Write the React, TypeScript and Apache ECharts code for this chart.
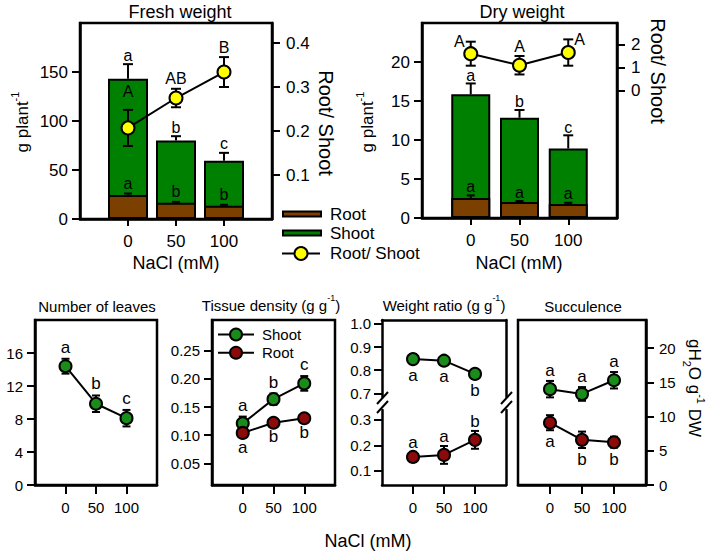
import React, { useEffect, useRef } from "react";
import * as echarts from "echarts";

const FONT = "'Liberation Sans', Arial, Helvetica, sans-serif";

// ---------------- data ----------------
const NACL = [0, 50, 100];
const NACL_TICKS = [0, 50, 100];

const FW_ROOT = [24.5, 16.5, 13.5];
const FW_ROOT_ERR = [1.5, 1, 1];
const FW_SHOOT = [118.5, 63.5, 46]; // shoot part stacked on root
const FW_SHOOT_ERR = [15, 4.5, 8];
const FW_RATIO = [0.207, 0.275, 0.334];
const FW_RATIO_ERR = [0.041, 0.021, 0.034];
const FW_SHOOT_LET = ["a", "b", "c"];
const FW_ROOT_LET = ["a", "b", "b"];
const FW_RATIO_LET = ["A", "AB", "B"];
const FW_LEFT_TICKS = [0, 50, 100, 150];
const FW_RIGHT_TICKS = [0.1, 0.2, 0.3, 0.4];

const DW_ROOT = [2.55, 2.05, 1.8];
const DW_ROOT_ERR = [0.35, 0.12, 0.15];
const DW_SHOOT = [13.3, 10.8, 7.1]; // shoot part stacked on root
const DW_SHOOT_ERR = [1.4, 1.0, 1.7];
const DW_RATIO = [1.6, 1.1, 1.65];
const DW_RATIO_ERR = [0.52, 0.4, 0.57];
const DW_SHOOT_LET = ["a", "b", "c"];
const DW_ROOT_LET = ["a", "a", "a"];
const DW_RATIO_LET = ["A", "A", "A"];
const DW_LEFT_TICKS = [0, 5, 10, 15, 20];
const DW_RIGHT_TICKS = [0, 1, 2];

const LEAVES = [14.4, 9.85, 8.1];
const LEAVES_ERR = [0.9, 1.0, 1.0];
const LEAVES_LET = ["a", "b", "c"];
const LEAVES_TICKS = [0, 4, 8, 12, 16];

const TD_SHOOT = [0.121, 0.164, 0.192];
const TD_SHOOT_ERR = [0.012, 0.01, 0.013];
const TD_ROOT = [0.104, 0.122, 0.13];
const TD_ROOT_ERR = [0.005, 0.004, 0.004];
const TD_SHOOT_LET = ["a", "b", "c"];
const TD_ROOT_LET = ["a", "b", "b"];
const TD_TICKS = [0.05, 0.1, 0.15, 0.2, 0.25];

const WR_SHOOT = [0.848, 0.841, 0.784];
const WR_SHOOT_ERR = [0.02, 0.018, 0.02];
const WR_ROOT = [0.155, 0.163, 0.222];
const WR_ROOT_ERR = [0.02, 0.035, 0.035];
const WR_SHOOT_LET = ["a", "a", "b"];
const WR_ROOT_LET = ["a", "a", "b"];
const WR_UPPER_TICKS = [0.7, 0.8, 0.9, 1.0];
const WR_LOWER_TICKS = [0.1, 0.2, 0.3];

const SU_SHOOT = [14.0, 13.3, 15.3];
const SU_SHOOT_ERR = [1.2, 1.0, 1.2];
const SU_ROOT = [9.1, 6.6, 6.25];
const SU_ROOT_ERR = [1.1, 1.2, 0.8];
const SU_SHOOT_LET = ["a", "a", "a"];
const SU_ROOT_LET = ["a", "b", "b"];
const SU_TICKS = [0, 5, 10, 15, 20];

const TOP_LEGEND = ["Root", "Shoot", "Root/ Shoot"];
const TD_LEGEND = ["Shoot", "Root"];

// ---------------- styles ----------------
const BROWN = "#7B3F00";
const GREEN_BAR = "#008000";
const YELLOW = "#FFFF00";
const GREEN_PT = "#1A8C1A";
const RED_PT = "#8B0A0A";
const AXIS_W = 2.5;

const add = (a: number[], b: number[]) => a.map((v, i) => v + b[i]);
const sub = (a: number[], b: number[]) => a.map((v, i) => v - b[i]);

function xAx(gridIndex: number, fs: number, margin: number, tickLen: number, show = true, position = "bottom") {
  return {
    type: "value",
    gridIndex,
    min: -50,
    max: 150,
    position,
    axisLine: { show: true, onZero: false, lineStyle: { color: "#000", width: AXIS_W } },
    axisTick: { show, length: tickLen, customValues: NACL_TICKS, lineStyle: { color: "#000", width: 2 } },
    axisLabel: { show, customValues: NACL_TICKS, fontSize: fs, fontFamily: FONT, color: "#000", margin },
    splitLine: { show: false },
  };
}

function yAx(
  gridIndex: number,
  min: number,
  max: number,
  ticks: number[],
  position: string,
  fs: number,
  margin: number,
  digits: number,
  show = true
) {
  return {
    type: "value",
    gridIndex,
    min,
    max,
    position,
    axisLine: { show: true, onZero: false, lineStyle: { color: "#000", width: AXIS_W } },
    axisTick: { show, length: 8, customValues: ticks, lineStyle: { color: "#000", width: 2 } },
    axisLabel: {
      show,
      customValues: ticks,
      fontSize: fs,
      fontFamily: FONT,
      color: "#000",
      margin,
      formatter: (v: number) => v.toFixed(digits),
    },
    splitLine: { show: false },
  };
}

function errorBars(xi: number, yi: number, lo: number[], hi: number[], capLo: boolean, capHi: boolean, w: number, z = 4) {
  return {
    type: "custom",
    xAxisIndex: xi,
    yAxisIndex: yi,
    z,
    silent: true,
    clip: false,
    data: NACL.map((x, i) => [x, lo[i], hi[i]]),
    encode: { x: 0, y: [1, 2] },
    renderItem: (_p: any, api: any) => {
      const x = api.value(0);
      const a = api.coord([x, api.value(1)]);
      const b = api.coord([x, api.value(2)]);
      const st = { stroke: "#000", lineWidth: 2 };
      const ch: any[] = [{ type: "line", shape: { x1: a[0], y1: a[1], x2: b[0], y2: b[1] }, style: st }];
      if (capHi) ch.push({ type: "line", shape: { x1: b[0] - w, y1: b[1], x2: b[0] + w, y2: b[1] }, style: st });
      if (capLo) ch.push({ type: "line", shape: { x1: a[0] - w, y1: a[1], x2: a[0] + w, y2: a[1] }, style: st });
      return { type: "group", children: ch };
    },
  };
}

function letters(
  xi: number,
  yi: number,
  anchors: number[],
  texts: string[],
  place: string | string[],
  fs: number,
  gap = 1,
  dys?: number[]
) {
  return {
    type: "custom",
    xAxisIndex: xi,
    yAxisIndex: yi,
    z: 10,
    silent: true,
    clip: false,
    data: NACL.map((x, i) => [x, anchors[i]]),
    encode: { x: 0, y: 1 },
    renderItem: (params: any, api: any) => {
      const i = params.dataIndex;
      const p = api.coord([api.value(0), api.value(1)]);
      const pl = Array.isArray(place) ? place[i] : place;
      let x = p[0];
      let y = p[1];
      let align = "center";
      let va = "middle";
      if (pl === "above") {
        y -= gap;
        va = "bottom";
      } else if (pl === "below") {
        y += gap;
        va = "top";
      } else if (pl === "left") {
        x -= 6;
        align = "right";
      } else if (pl === "right") {
        x += 6;
        align = "left";
      }
      if (dys) y += dys[i];
      return {
        type: "text",
        x,
        y,
        style: {
          text: texts[i],
          fill: "#000",
          fontSize: fs,
          fontFamily: FONT,
          align,
          verticalAlign: va,
          textAlign: align,
          textVerticalAlign: va,
        },
      };
    },
  };
}

function points(xi: number, yi: number, vals: number[], color: string, size: number, name: string) {
  return {
    type: "line",
    name,
    xAxisIndex: xi,
    yAxisIndex: yi,
    z: 6,
    data: NACL.map((x, i) => [x, vals[i]]),
    symbol: "circle",
    symbolSize: size,
    itemStyle: { color, borderColor: "#000", borderWidth: 2 },
    lineStyle: { color: "#000", width: 2 },
  };
}

function bar(xi: number, yi: number, vals: number[], color: string, width: number, name: string, z: number) {
  return {
    type: "bar",
    name,
    xAxisIndex: xi,
    yAxisIndex: yi,
    barWidth: width,
    barGap: "-100%",
    z,
    data: NACL.map((x, i) => [x, vals[i]]),
    itemStyle: { color, borderColor: "#000", borderWidth: 2 },
  };
}

function txt(text: string, x: number, y: number, fs: number, opts: any = {}) {
  const align = opts.align || "center";
  return {
    type: "text",
    x,
    y,
    rotation: opts.rot || 0,
    z: 20,
    style: {
      text,
      fill: "#000",
      fontSize: fs,
      fontFamily: FONT,
      align,
      verticalAlign: "middle",
      textAlign: align,
      textVerticalAlign: "middle",
      rich: opts.rich,
    },
  };
}

function supRich(fs: number) {
  return {
    n: { fontSize: fs, fontFamily: FONT, fill: "#000", lineHeight: fs + 8 },
    s: { fontSize: Math.round(fs * 0.62), fontFamily: FONT, fill: "#000", lineHeight: 10, verticalAlign: "top" },
    d: { fontSize: Math.round(fs * 0.62), fontFamily: FONT, fill: "#000", lineHeight: 12, verticalAlign: "bottom" },
  };
}

function buildOption() {
  // stacked totals: shoot sits on top of root
  const fwTotal = add(FW_ROOT, FW_SHOOT);
  const dwTotal = add(DW_ROOT, DW_SHOOT);
  const grids = [
    { left: 80, top: 23, width: 192, height: 196 }, // fresh
    { left: 422, top: 23, width: 195, height: 195 }, // dry
    { left: 35, top: 320, width: 122, height: 165 }, // leaves
    { left: 212, top: 320, width: 123, height: 165 }, // tissue
    { left: 382, top: 320, width: 124, height: 77 }, // WR upper
    { left: 382, top: 410, width: 124, height: 75 }, // WR lower
    { left: 518, top: 320, width: 128, height: 165 }, // succulence
  ].map((g, i) => ({
    ...g,
    show: i !== 4 && i !== 5,
    borderColor: "#000",
    borderWidth: AXIS_W,
    backgroundColor: "transparent",
    containLabel: false,
    outerBoundsMode: "none",
  }));

  const xAxis = [
    xAx(0, 17, 14, 7),
    xAx(1, 17, 14, 7),
    xAx(2, 15, 15, 9),
    xAx(3, 15, 15, 9),
    xAx(4, 15, 15, 9, false, "top"),
    xAx(5, 15, 15, 9),
    xAx(6, 15, 15, 9),
  ];

  const yAxis = [
    yAx(0, 0, 200, FW_LEFT_TICKS, "left", 17, 12, 0),
    yAx(0, 0, 0.4455, FW_RIGHT_TICKS, "right", 17, 14, 1),
    yAx(1, 0, 25, DW_LEFT_TICKS, "left", 17, 12, 0),
    yAx(1, -5.52, 2.93, DW_RIGHT_TICKS, "right", 17, 14, 0),
    yAx(2, 0, 20, LEAVES_TICKS, "left", 15, 12, 0),
    yAx(3, 0.0115, 0.3046, TD_TICKS, "left", 15, 12, 2),
    yAx(4, 0.684, 1.017, WR_UPPER_TICKS, "left", 15, 11, 1),
    yAx(4, 0.684, 1.017, [], "right", 15, 11, 1, false),
    yAx(5, 0.045, 0.339, WR_LOWER_TICKS, "left", 15, 11, 1),
    yAx(5, 0.045, 0.339, [], "right", 15, 11, 1, false),
    yAx(6, 0, 24.1, SU_TICKS, "right", 15, 13, 0),
  ];

  const series: any[] = [
    // Fresh weight
    bar(0, 0, fwTotal, GREEN_BAR, 40, "Shoot", 2),
    bar(0, 0, FW_ROOT, BROWN, 40, "Root", 3),
    errorBars(0, 0, fwTotal, add(fwTotal, FW_SHOOT_ERR), false, true, 5),
    errorBars(0, 0, FW_ROOT, add(FW_ROOT, FW_ROOT_ERR), false, true, 4),
    errorBars(0, 1, sub(FW_RATIO, FW_RATIO_ERR), add(FW_RATIO, FW_RATIO_ERR), true, true, 5),
    points(0, 1, FW_RATIO, YELLOW, 13, "Root/ Shoot"),
    letters(0, 0, add(fwTotal, FW_SHOOT_ERR), FW_SHOOT_LET, "above", 16),
    letters(0, 0, add(FW_ROOT, FW_ROOT_ERR), FW_ROOT_LET, "above", 16, 2),
    letters(0, 1, add(FW_RATIO, FW_RATIO_ERR), FW_RATIO_LET, "above", 16, 2, [-8, 0, 0]),

    // Dry weight
    bar(1, 2, dwTotal, GREEN_BAR, 39, "Shoot", 2),
    bar(1, 2, DW_ROOT, BROWN, 39, "Root", 3),
    errorBars(1, 2, dwTotal, add(dwTotal, DW_SHOOT_ERR), false, true, 5),
    errorBars(1, 2, DW_ROOT, add(DW_ROOT, DW_ROOT_ERR), false, true, 4),
    errorBars(1, 3, sub(DW_RATIO, DW_RATIO_ERR), add(DW_RATIO, DW_RATIO_ERR), true, true, 5),
    points(1, 3, DW_RATIO, YELLOW, 13, "Root/ Shoot"),
    letters(1, 2, add(dwTotal, DW_SHOOT_ERR), DW_SHOOT_LET, "above", 16, 0),
    letters(1, 2, add(DW_ROOT, DW_ROOT_ERR), DW_ROOT_LET, "above", 16, 1),
    letters(1, 3, add(DW_RATIO, DW_RATIO_ERR), DW_RATIO_LET, ["left", "above", "right"], 16, 2),

    // Number of leaves
    errorBars(2, 4, sub(LEAVES, LEAVES_ERR), add(LEAVES, LEAVES_ERR), true, true, 4),
    points(2, 4, LEAVES, GREEN_PT, 12, "Leaves"),
    letters(2, 4, add(LEAVES, LEAVES_ERR), LEAVES_LET, "above", 17, 3),

    // Tissue density
    errorBars(3, 5, sub(TD_SHOOT, TD_SHOOT_ERR), add(TD_SHOOT, TD_SHOOT_ERR), true, true, 4),
    errorBars(3, 5, sub(TD_ROOT, TD_ROOT_ERR), add(TD_ROOT, TD_ROOT_ERR), true, true, 4),
    points(3, 5, TD_SHOOT, GREEN_PT, 12, "Shoot"),
    points(3, 5, TD_ROOT, RED_PT, 12, "Root"),
    letters(3, 5, add(TD_SHOOT, TD_SHOOT_ERR), TD_SHOOT_LET, "above", 17, 3),
    letters(3, 5, sub(TD_ROOT, TD_ROOT_ERR), TD_ROOT_LET, "below", 17, 3),

    // Weight ratio
    errorBars(4, 6, sub(WR_SHOOT, WR_SHOOT_ERR), add(WR_SHOOT, WR_SHOOT_ERR), true, true, 4),
    points(4, 6, WR_SHOOT, GREEN_PT, 12, "Shoot"),
    letters(4, 6, sub(WR_SHOOT, WR_SHOOT_ERR), WR_SHOOT_LET, "below", 17, 3),
    errorBars(5, 8, sub(WR_ROOT, WR_ROOT_ERR), add(WR_ROOT, WR_ROOT_ERR), true, true, 4),
    points(5, 8, WR_ROOT, RED_PT, 12, "Root"),
    letters(5, 8, add(WR_ROOT, WR_ROOT_ERR), WR_ROOT_LET, "above", 17, 1),

    // Succulence
    errorBars(6, 10, sub(SU_SHOOT, SU_SHOOT_ERR), add(SU_SHOOT, SU_SHOOT_ERR), true, true, 4),
    errorBars(6, 10, sub(SU_ROOT, SU_ROOT_ERR), add(SU_ROOT, SU_ROOT_ERR), true, true, 4),
    points(6, 10, SU_SHOOT, GREEN_PT, 12, "Shoot"),
    points(6, 10, SU_ROOT, RED_PT, 12, "Root"),
    letters(6, 10, add(SU_SHOOT, SU_SHOOT_ERR), SU_SHOOT_LET, "above", 17, 2),
    letters(6, 10, sub(SU_ROOT, SU_ROOT_ERR), SU_ROOT_LET, "below", 17, 3),
  ];

  const R18 = supRich(17);
  const R15 = supRich(15);
  const st = { stroke: "#000", lineWidth: 2 };

  const graphic: any[] = [
    // titles
    txt("Fresh weight", 180, 12, 18),
    txt("Dry weight", 522, 12, 18),
    txt("NaCl (mM)", 176, 263, 18),
    txt("NaCl (mM)", 519, 263, 18),
    txt("NaCl (mM)", 368, 541, 18),
    txt("Number of leaves", 97, 306, 15),
    txt("{n|Tissue density (g g}{s|-1}{n|)}", 271, 305, 15, { rich: R15 }),
    txt("{n|Weight ratio (g g}{s|-1}{n|)}", 444, 305, 15, { rich: R15 }),
    txt("Succulence", 583, 306, 15),
    // axis names
    txt("{n|g plant}{s|-1}", 22, 122, 17, { rot: Math.PI / 2, rich: R18 }),
    txt("{n|g plant}{s|-1}", 367, 122, 17, { rot: Math.PI / 2, rich: R18 }),
    txt("Root/ Shoot", 326, 123, 20, { rot: -Math.PI / 2 }),
    txt("Root/ Shoot", 658, 71, 20, { rot: -Math.PI / 2 }),
    txt("{n|gH}{d|2}{n|O g}{s|-1}{n| DW}", 694, 388, 17, { rot: -Math.PI / 2, rich: R18 }),
    // top legend
    { type: "rect", shape: { x: 283, y: 211.5, width: 38, height: 5 }, style: { fill: BROWN, stroke: "#000", lineWidth: 2 }, z: 20 },
    txt(TOP_LEGEND[0], 330, 214, 17, { align: "left" }),
    { type: "rect", shape: { x: 283, y: 230.5, width: 38, height: 5 }, style: { fill: GREEN_BAR, stroke: "#000", lineWidth: 2 }, z: 20 },
    txt(TOP_LEGEND[1], 330, 233, 17, { align: "left" }),
    { type: "line", shape: { x1: 282, y1: 253.5, x2: 320, y2: 253.5 }, style: st, z: 20 },
    { type: "circle", shape: { cx: 301, cy: 253.5, r: 6.5 }, style: { fill: YELLOW, stroke: "#000", lineWidth: 2 }, z: 21 },
    txt(TOP_LEGEND[2], 330, 253.5, 17, { align: "left" }),
    // tissue density legend
    { type: "line", shape: { x1: 218, y1: 334.5, x2: 254, y2: 334.5 }, style: st, z: 20 },
    { type: "circle", shape: { cx: 236, cy: 334.5, r: 6 }, style: { fill: GREEN_PT, stroke: "#000", lineWidth: 2 }, z: 21 },
    txt(TD_LEGEND[0], 262, 334.5, 15, { align: "left" }),
    { type: "line", shape: { x1: 218, y1: 352.7, x2: 254, y2: 352.7 }, style: st, z: 20 },
    { type: "circle", shape: { cx: 236, cy: 352.7, r: 6 }, style: { fill: RED_PT, stroke: "#000", lineWidth: 2 }, z: 21 },
    txt(TD_LEGEND[1], 262, 352.7, 15, { align: "left" }),
    // axis break marks (weight ratio)
    { type: "line", shape: { x1: 377, y1: 404, x2: 388, y2: 392 }, style: st, z: 20 },
    { type: "line", shape: { x1: 377, y1: 413, x2: 388, y2: 401 }, style: st, z: 20 },
    { type: "line", shape: { x1: 501, y1: 404, x2: 512, y2: 392 }, style: st, z: 20 },
    { type: "line", shape: { x1: 501, y1: 413, x2: 512, y2: 401 }, style: st, z: 20 },
  ];

  return {
    animation: false,
    backgroundColor: "#fff",
    textStyle: { fontFamily: FONT, color: "#000" },
    grid: grids,
    xAxis,
    yAxis,
    series,
    graphic,
  };
}

export default function App() {
  const ref = useRef<HTMLDivElement>(null);
  useEffect(() => {
    document.body.style.margin = "0";
    const chart = echarts.init(ref.current!, undefined, { renderer: "svg" });
    chart.setOption(buildOption() as any);
    return () => chart.dispose();
  }, []);
  return <div ref={ref} style={{ width: 709, height: 555 }} />;
}
